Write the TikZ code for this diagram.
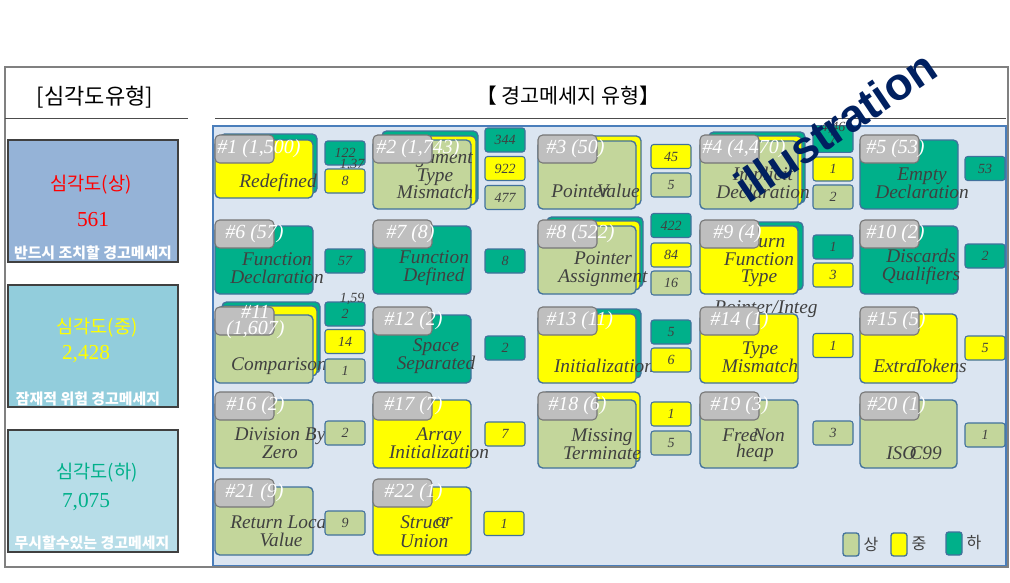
\documentclass[tikz,border=0pt]{standalone}
\usepackage{fontspec}
\setmainfont{Liberation Serif}
\newfontfamily\krfont{Noto Sans CJK KR}
\newfontfamily\markfont{Liberation Sans}
\definecolor{SevOlive}{RGB}{195,214,155}
\definecolor{SevYellow}{RGB}{255,255,0}
\definecolor{SevTeal}{RGB}{0,176,138}
\definecolor{TagGray}{RGB}{191,191,191}
\definecolor{TagLine}{RGB}{118,118,118}
\definecolor{BoxLine}{RGB}{65,113,156}
\definecolor{PanelFill}{RGB}{219,229,241}
\definecolor{PanelLine}{RGB}{74,126,187}
\definecolor{FrameGray}{RGB}{128,128,128}
\definecolor{LeftBlue}{RGB}{149,179,215}
\definecolor{LeftCyan}{RGB}{146,205,220}
\definecolor{LeftPale}{RGB}{183,221,232}
\definecolor{TextGray}{RGB}{64,64,64}
\definecolor{MarkNavy}{RGB}{0,32,96}
\usepackage{tikz}
\tikzset{
    sevbox/.style={draw=BoxLine, line width=1pt, rounded corners=3.5pt},
    sang/.style={sevbox, fill=SevOlive},
    jung/.style={sevbox, fill=SevYellow},
    ha/.style={sevbox, fill=SevTeal},
    tagbox/.style={draw=TagLine, fill=TagGray, line width=0.8pt, rounded corners=3.5pt},
    cnt/.style={draw=BoxLine, line width=0.8pt, rounded corners=2pt, minimum width=30pt, minimum height=18pt, inner sep=0pt, align=center, font=\fontsize{10.5}{10}\selectfont\itshape, text=TextGray},
    cntext/.style={inner sep=0pt, font=\fontsize{10.5}{10}\selectfont\itshape, text=TextGray},
    wname/.style={inner sep=0pt, align=center, text=TextGray, font=\fontsize{14.5}{13.2}\selectfont\itshape},
    wtag/.style={inner sep=0pt, anchor=west, align=center, text=white, font=\fontsize{15}{12}\selectfont\itshape},
    sevlabel/.style={inner sep=0pt, font=\krfont\fontsize{14}{16}\selectfont},
    sevcount/.style={inner sep=0pt, font=\fontsize{16}{18}\selectfont},
    sevnote/.style={inner sep=0pt, text=white, font=\krfont\bfseries\fontsize{11.2}{12}\selectfont},
    leftbox/.style={draw=black!75, line width=0.8pt},
    legtxt/.style={inner sep=0pt, text=TextGray, font=\krfont\fontsize{12}{14}\selectfont},
}

\begin{document}
\begin{tikzpicture}[x=0.75pt,y=-0.75pt]
    \useasboundingbox (0,0) rectangle (1010,582);
    \fill[white] (0,0) rectangle (1010,582);
    \draw[PanelLine, fill=PanelFill, line width=1.3pt] (213,126) rectangle (1006,566);
    \draw[FrameGray, line width=1.8pt] (5,67) rectangle (1008,567);
    \draw[black!70, line width=0.6pt] (5,118) -- (188,118);
    \draw[black!70, line width=0.6pt] (215,118) -- (1006,118);
    \node[inner sep=0pt, font=\krfont\fontsize{16.5}{18}\selectfont] (lefttitle) at (95,97) {[심각도유형]};
    \node[inner sep=0pt, font=\krfont\fontsize{15.5}{18}\selectfont] (righttitle) at (568,96) {【 경고메세지 유형】};

    \draw[leftbox, fill=LeftBlue] (8,140) rectangle (178,262);
    \draw[leftbox, fill=LeftCyan] (8,285) rectangle (178,407);
    \draw[leftbox, fill=LeftPale] (8,430) rectangle (178,552);
    \node[sevlabel, text=red] (sanglabel) at (91,185) {심각도(상)};
    \node[sevcount, text=red] (sangcount) at (93,220) {561};
    \node[sevnote] (sangnote) at (93,253) {반드시 조치할 경고메세지};
    \node[sevlabel, text=SevYellow] (junglabel) at (97,328) {심각도(중)};
    \node[sevcount, text=SevYellow] (jungcount) at (86,354) {2,428};
    \node[sevnote] (jungnote) at (88,399) {잠재적 위험 경고메세지};
    \node[sevlabel, text=SevTeal] (halabel) at (97,473) {심각도(하)};
    \node[sevcount, text=SevTeal] (hacount) at (86,502) {7,075};
    \node[sevnote] (hanote) at (92,543) {무시할수있는 경고메세지};

    \draw[ha] (220,134) rectangle (317,193);
    \draw[jung] (215,140) rectangle (313,198);
    \draw[ha] (382,131) rectangle (478,203);
    \draw[jung] (378,136) rectangle (476,205);
    \draw[sang] (373,140) rectangle (471,209);
    \draw[jung] (543,136) rectangle (641,205);
    \draw[sang] (538,141) rectangle (636,209);
    \draw[ha] (709,132) rectangle (805,203);
    \draw[jung] (705,136) rectangle (802,205);
    \draw[sang] (700,141) rectangle (798,209);
    \draw[ha] (860,140) rectangle (958,209);

    \draw[ha] (215,226) rectangle (313,294);
    \draw[ha] (373,226) rectangle (471,294);
    \draw[ha] (547,217) rectangle (643,287);
    \draw[jung] (542,221) rectangle (640,290);
    \draw[sang] (538,226) rectangle (636,294);
    \draw[ha] (705,222) rectangle (803,290);
    \draw[jung] (700,226) rectangle (798,294);
    \draw[ha] (860,226) rectangle (958,294);

    \draw[ha] (222,302) rectangle (320,373);
    \draw[jung] (219,306) rectangle (317,376);
    \draw[sang] (215,315) rectangle (313,383);
    \draw[ha] (373,315) rectangle (471,383);
    \draw[ha] (542,309) rectangle (641,378);
    \draw[jung] (538,314) rectangle (636,383);
    \draw[jung] (700,314) rectangle (798,383);
    \draw[jung] (860,314) rectangle (957,383);

    \draw[sang] (215,400) rectangle (313,468);
    \draw[jung] (373,400) rectangle (471,468);
    \draw[jung] (542,392) rectangle (640,462);
    \draw[sang] (538,400) rectangle (636,468);
    \draw[sang] (700,400) rectangle (798,468);
    \draw[sang] (860,400) rectangle (957,468);

    \draw[sang] (215,487) rectangle (313,555);
    \draw[jung] (373,487) rectangle (471,555);

    \node[wname] (n1) at (278,183) {Redefined};
    \node[wname] (n2) at (435,175) {Argument\\Type\\Mismatch};
    \node[wname, anchor=west] (n3a) at (551,191) {Pointer};
    \node[wname, anchor=east] (n3b) at (640,191) {Value};
    \node[wname] (n4) at (763,183) {Implicit\\Declaration};
    \node[wname] (n5) at (922,183) {Empty\\Declaration};
    \node[wname] (n6) at (277,268) {Function\\Declaration};
    \node[wname] (n7) at (434,268) {Function\\Defined};
    \node[wname] (n8) at (603,269) {Pointer\\Assignment};
    \node[wname] (n9) at (759,261) {Return\\Function\\Type};
    \node[wname] (n10) at (921,267) {Discards\\Qualifiers};
    \node[wname] (n11) at (279,366) {Comparison};
    \node[wname] (n12) at (436,356) {Space\\Separated};
    \node[wname] (n13) at (604,366) {Initialization};
    \node[wname] (n14a) at (766,309) {Pointer/Integ};
    \node[wname] (n14) at (760,357) {Type\\Mismatch};
    \node[wname, anchor=west] (n15a) at (873,366) {Extra};
    \node[wname, anchor=east] (n15b) at (967,366) {Tokens};
    \node[wname] (n16) at (280,443) {Division By\\Zero};
    \node[wname] (n17) at (439,443) {Array\\Initialization};
    \node[wname] (n18) at (602,444) {Missing\\Terminate};
    \node[wname, anchor=west] (n19a) at (722,435) {Free};
    \node[wname, anchor=east] (n19b) at (785,435) {Non};
    \node[wname] (n19c) at (755,453) {heap};
    \node[wname, anchor=west] (n20a) at (886,453) {ISO};
    \node[wname, anchor=east] (n20b) at (942,453) {C99};
    \node[wname] (n21) at (281,531) {Return Local\\Value};
    \node[wname, anchor=west] (n22a) at (400,522) {Struct};
    \node[wname, anchor=east] (n22b) at (453,522) {or};
    \node[wname] (n22c) at (424,541) {Union};

    \draw[tagbox] (215,135) rectangle (274,163);
    \draw[tagbox] (373,135) rectangle (432,163);
    \draw[tagbox] (538,135) rectangle (597,163);
    \draw[tagbox] (700,135) rectangle (759,163);
    \draw[tagbox] (860,135) rectangle (919,163);
    \draw[tagbox] (215,220) rectangle (274,248);
    \draw[tagbox] (373,220) rectangle (432,248);
    \draw[tagbox] (538,220) rectangle (597,248);
    \draw[tagbox] (700,220) rectangle (759,248);
    \draw[tagbox] (860,220) rectangle (919,248);
    \draw[tagbox] (215,307) rectangle (274,335);
    \draw[tagbox] (373,307) rectangle (432,335);
    \draw[tagbox] (538,307) rectangle (597,335);
    \draw[tagbox] (700,307) rectangle (759,335);
    \draw[tagbox] (860,307) rectangle (919,335);
    \draw[tagbox] (215,392) rectangle (274,420);
    \draw[tagbox] (373,392) rectangle (432,420);
    \draw[tagbox] (538,392) rectangle (597,420);
    \draw[tagbox] (700,392) rectangle (759,420);
    \draw[tagbox] (860,392) rectangle (919,420);
    \draw[tagbox] (215,479) rectangle (274,507);
    \draw[tagbox] (373,479) rectangle (432,507);

    \node[wtag] (t1) at (217,149) {\#1 (1,500)};
    \node[wtag] (t2) at (376,149) {\#2 (1,743)};
    \node[wtag] (t3) at (546,149) {\#3 (50)};
    \node[wtag] (t4) at (702,149) {\#4 (4,470)};
    \node[wtag] (t5) at (866,149) {\#5 (53)};
    \node[wtag] (t6) at (225,234) {\#6 (57)};
    \node[wtag] (t7) at (386,234) {\#7 (8)};
    \node[wtag] (t8) at (546,234) {\#8 (522)};
    \node[wtag] (t9) at (713,234) {\#9 (4)};
    \node[wtag] (t10) at (866,234) {\#10 (2)};
    \node[wtag] (t11) at (226,322) {\#11\\(1,607)};
    \node[wtag] (t12) at (384,321) {\#12 (2)};
    \node[wtag] (t13) at (546,321) {\#13 (11)};
    \node[wtag] (t14) at (710,321) {\#14 (1)};
    \node[wtag] (t15) at (867,321) {\#15 (5)};
    \node[wtag] (t16) at (226,406) {\#16 (2)};
    \node[wtag] (t17) at (384,406) {\#17 (7)};
    \node[wtag] (t18) at (548,406) {\#18 (6)};
    \node[wtag] (t19) at (710,406) {\#19 (3)};
    \node[wtag] (t20) at (867,406) {\#20 (1)};
    \node[wtag] (t21) at (225,493) {\#21 (9)};
    \node[wtag] (t22) at (384,493) {\#22 (1)};

    \node[cnt, fill=SevTeal] (c1a) at (345,153) {122};
    \node[cntext] (c1x) at (352,165) {1,37};
    \node[cnt, fill=SevYellow] (c1b) at (345,181) {8};
    \node[cnt, fill=SevTeal] (c2a) at (505,140) {344};
    \node[cnt, fill=SevYellow] (c2b) at (505,168.5) {922};
    \node[cnt, fill=SevOlive] (c2c) at (505,197.5) {477};
    \node[cnt, fill=SevYellow] (c3a) at (671,156.5) {45};
    \node[cnt, fill=SevOlive] (c3b) at (671,185) {5};
    \node[cnt, fill=SevTeal, minimum height=20pt] (c4a) at (833,139) {7};
    \node[cntext] (c4x) at (833,128) {4,46};
    \node[cnt, fill=SevYellow] (c4b) at (833,169) {1};
    \node[cnt, fill=SevOlive] (c4c) at (833,197) {2};
    \node[cnt, fill=SevTeal] (c5a) at (985,168.5) {53};
    \node[cnt, fill=SevTeal] (c6a) at (345,261) {57};
    \node[cnt, fill=SevTeal] (c7a) at (505,261) {8};
    \node[cnt, fill=SevTeal] (c8a) at (671,225.5) {422};
    \node[cnt, fill=SevYellow] (c8b) at (671,255) {84};
    \node[cnt, fill=SevOlive] (c8c) at (671,283) {16};
    \node[cnt, fill=SevTeal] (c9a) at (833,247) {1};
    \node[cnt, fill=SevYellow] (c9b) at (833,275) {3};
    \node[cnt, fill=SevTeal] (c10a) at (985,256) {2};
    \node[cnt, fill=SevTeal] (c11a) at (345,314) {2};
    \node[cntext] (c11x) at (352,299) {1,59};
    \node[cnt, fill=SevYellow] (c11b) at (345,341.5) {14};
    \node[cnt, fill=SevOlive] (c11c) at (345,371) {1};
    \node[cnt, fill=SevTeal] (c12a) at (505,348) {2};
    \node[cnt, fill=SevTeal] (c13a) at (671,332) {5};
    \node[cnt, fill=SevYellow] (c13b) at (671,360) {6};
    \node[cnt, fill=SevYellow] (c14a) at (833,345.5) {1};
    \node[cnt, fill=SevYellow] (c15a) at (985,348) {5};
    \node[cnt, fill=SevOlive] (c16a) at (345,433) {2};
    \node[cnt, fill=SevYellow] (c17a) at (505,434) {7};
    \node[cnt, fill=SevYellow] (c18a) at (671,414) {1};
    \node[cnt, fill=SevOlive] (c18b) at (671,443) {5};
    \node[cnt, fill=SevOlive] (c19a) at (833,433) {3};
    \node[cnt, fill=SevOlive] (c20a) at (985,435) {1};
    \node[cnt, fill=SevOlive] (c21a) at (345,523) {9};
    \node[cnt, fill=SevYellow] (c22a) at (504,523.5) {1};

    \draw[sang, rounded corners=2pt] (843,533) rectangle (859,556);
    \node[legtxt] (legsang) at (871,544) {상};
    \draw[jung, rounded corners=2pt] (891,533) rectangle (907,556);
    \node[legtxt] (legjung) at (919,544) {중};
    \draw[ha, rounded corners=2pt] (946,532) rectangle (962,555);
    \node[legtxt] (legha) at (974,542) {하};

    \node[inner sep=0pt, rotate=34, text=MarkNavy, font=\markfont\bfseries\fontsize{34}{34}\selectfont] (mark) at (835,126) {illustration};
\end{tikzpicture}
\end{document}
